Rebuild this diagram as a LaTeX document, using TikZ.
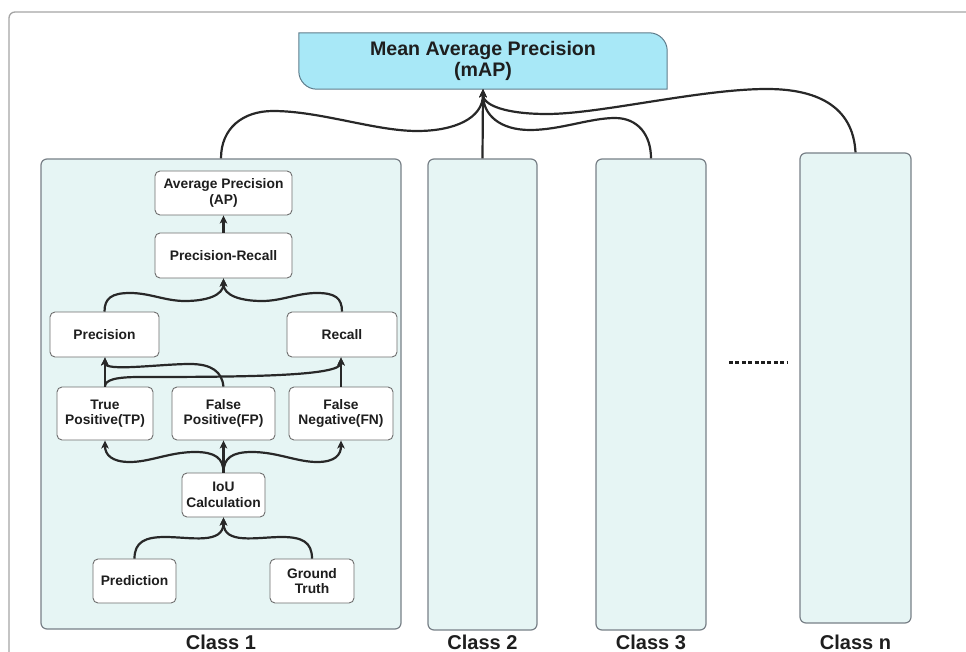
\documentclass[tikz,border=0pt]{standalone}
\usepackage{fontspec}
\setmainfont{Liberation Sans}
\usetikzlibrary{arrows.meta,positioning,calc,backgrounds}
\definecolor{mapcyan}{RGB}{168,232,247}
\definecolor{mapedge}{RGB}{95,125,140}
\definecolor{classfill}{RGB}{230,245,244}
\definecolor{classedge}{RGB}{120,128,135}
\definecolor{nodeedge}{RGB}{110,110,110}
\definecolor{wiregray}{RGB}{40,40,40}
\definecolor{framegray}{RGB}{165,165,165}
\definecolor{inkblack}{RGB}{30,30,30}

\begin{document}
\begin{tikzpicture}[x=1pt,y=1pt,font=\bfseries,
    box/.style={draw=nodeedge,fill=white,rounded corners=5pt,line width=0.9pt,align=center,inner sep=1pt,text=inkblack,font=\fontsize{13.8}{15.5}\selectfont\bfseries},
    classbox/.style={draw=classedge,fill=classfill,rounded corners=6pt,line width=1.2pt},
    classlbl/.style={text=inkblack,font=\fontsize{20}{22}\selectfont\bfseries},
    wire/.style={draw=wiregray,line width=2.2pt},
    arr/.style={wire,-{Stealth[length=8pt,width=7.5pt,inset=2pt]}}]
  \useasboundingbox (0,0) rectangle (966,-652);
  \draw[framegray,line width=1.3pt,rounded corners=6pt] (9,-652) -- (9,-12) -- (966,-12);

  \node[align=center,minimum width=368pt,minimum height=56pt,text=inkblack,font=\fontsize{19.6}{21}\selectfont\bfseries] (map) at (483,-61) {Mean Average Precision\\(mAP)};
  \begin{scope}[on background layer]
    \draw[draw=mapedge,fill=mapcyan,line width=1pt] (map.north west) -- ([xshift=-18pt]map.north east) arc[start angle=90,end angle=0,radius=18pt] -- (map.south east) -- ([xshift=18pt]map.south west) arc[start angle=270,end angle=180,radius=18pt] -- cycle;
  \end{scope}

  \node[classbox,minimum width=360pt,minimum height=470pt] (c1) at (221,-394) {};
  \node[classbox,minimum width=109pt,minimum height=471pt] (c2) at (482.5,-394.5) {};
  \node[classbox,minimum width=110pt,minimum height=471pt] (c3) at (651,-394.5) {};
  \node[classbox,minimum width=111pt,minimum height=470pt] (cn) at (855.5,-388) {};
  \node[classlbl] (c1lbl) at (221,-642) {Class 1};
  \node[classlbl] (c2lbl) at (482.5,-642) {Class 2};
  \node[classlbl] (c3lbl) at (651,-642) {Class 3};
  \node[classlbl] (cnlbl) at (855.5,-642) {Class n};
  \coordinate (dotsl) at (729,-362);
  \coordinate (dotsr) at (787,-362);
  \draw[inkblack,line width=3pt,dash pattern=on 4pt off 2.4pt] (dotsl) -- (dotsr);

  \node[box,minimum width=137pt,minimum height=44pt] (ap) at (223.5,-193) {Average Precision\\(AP)};
  \node[box,minimum width=137pt,minimum height=45pt] (pr) at (223.5,-255.5) {Precision-Recall};
  \node[box,minimum width=109pt,minimum height=45pt] (prec) at (104.5,-334.5) {Precision};
  \node[box,minimum width=110pt,minimum height=45pt] (rec) at (342,-334.5) {Recall};
  \node[box,minimum width=96pt,minimum height=53pt] (tp) at (105,-413.5) {True\\Positive(TP)};
  \node[box,minimum width=103pt,minimum height=53pt] (fp) at (223.5,-413.5) {False\\Positive(FP)};
  \node[box,minimum width=104pt,minimum height=53pt] (fn) at (341,-413.5) {False\\Negative(FN)};
  \node[box,minimum width=83pt,minimum height=44pt] (iou) at (223.5,-495) {IoU\\Calculation};
  \node[box,minimum width=83pt,minimum height=44pt] (pred) at (134.5,-581) {Prediction};
  \node[box,minimum width=84pt,minimum height=44pt] (gt) at (312,-581) {Ground\\Truth};

  \draw[arr] (pr) -- (ap);
  \draw[arr] (prec.north) .. controls (104.5,-298) and (112,-293) .. (130,-293) .. controls (150,-293) and (165,-301) .. (185,-301) .. controls (205,-301) and (223.5,-296) .. (pr.south);
  \draw[arr] (rec.north) .. controls (342,-298) and (335,-293) .. (317,-293) .. controls (297,-293) and (282,-301) .. (262,-301) .. controls (242,-301) and (223.5,-296) .. (pr.south);
  \draw[arr] (tp.north) -- (tp.north |- prec.south);
  \draw[arr] (fp.north) .. controls (222,-372) and (212,-364) .. (190,-364) .. controls (160,-364) and (104.5,-372) .. (tp.north |- prec.south);
  \draw[arr] (tp.north) .. controls (105,-380) and (115,-377) .. (140,-377) .. controls (250,-377) and (341,-376) .. (fn.north |- rec.south);
  \draw[arr] (fn.north) -- (fn.north |- rec.south);
  \draw[arr] (iou.north) .. controls (223.5,-458) and (215,-452) .. (195,-452) .. controls (170,-452) and (150,-462) .. (130,-462) .. controls (112,-462) and (105,-455) .. (tp.south);
  \draw[arr] (iou) -- (fp);
  \draw[arr] (iou.north) .. controls (223.5,-458) and (232,-452) .. (252,-452) .. controls (277,-452) and (297,-462) .. (317,-462) .. controls (335,-462) and (341,-455) .. (fn.south);
  \draw[arr] (pred.north) .. controls (134.5,-542) and (145,-537) .. (165,-537) .. controls (190,-537) and (223.5,-545) .. (iou.south);
  \draw[arr] (gt.north) .. controls (312,-542) and (302,-537) .. (282,-537) .. controls (257,-537) and (223.5,-545) .. (iou.south);

  \draw[arr] (c1.north) .. controls (221,-128) and (243,-111) .. (273,-111) .. controls (320,-111) and (375,-131) .. (417,-131) .. controls (455,-131) and (483,-118) .. (map.south);
  \draw[arr] (c2.north) -- (map.south);
  \draw[arr] (c3.north) .. controls (651,-135) and (638,-118) .. (615,-118) .. controls (590,-118) and (560,-130) .. (530,-130) .. controls (500,-130) and (483,-115) .. (map.south);
  \draw[arr] (cn.north) .. controls (853,-105) and (815,-89) .. (767,-89) .. controls (700,-89) and (600,-114) .. (547,-114) .. controls (505,-114) and (483,-105) .. (map.south);
\end{tikzpicture}
\end{document}
